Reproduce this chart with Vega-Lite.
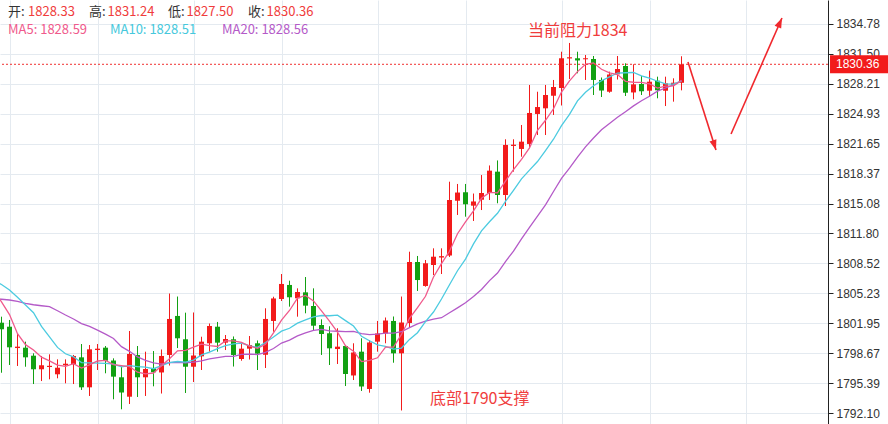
{
"$schema": "https://vega.github.io/schema/vega-lite/v6.json",
"width": 828, "height": 424,
"autosize": {"type": "none"},
"padding": {"left": 0, "top": 0, "right": 60, "bottom": 0},
"background": "white",
"config": {"view": {"stroke": null}, "scale": {"continuousPadding": 0}},
"resolve": {"axis": {"x": "independent", "y": "independent"}},
"datasets": {
"k": [
{"i":-1,"ma5":1805.60,"ma10":1806.70,"ma20":1804.66},
{"i":0,"o":1802.01,"h":1802.67,"l":1796.52,"c":1801.29,"ma5":1804.30,"ma10":1806.20,"ma20":1804.58},
{"i":1,"o":1801.57,"h":1802.31,"l":1797.37,"c":1799.31,"ma5":1802.90,"ma10":1805.60,"ma20":1804.50},
{"i":2,"o":1799.23,"h":1800.85,"l":1797.26,"c":1799.38,"ma5":1800.80,"ma10":1804.80,"ma20":1804.35},
{"i":3,"o":1799.27,"h":1799.93,"l":1797.18,"c":1798.21,"ma5":1799.60,"ma10":1803.95,"ma20":1804.14},
{"i":4,"o":1798.39,"h":1798.65,"l":1795.28,"c":1796.90,"ma5":1799.02,"ma10":1803.10,"ma20":1803.98},
{"i":5,"o":1796.90,"h":1798.36,"l":1795.61,"c":1797.34,"ma5":1798.23,"ma10":1801.60,"ma20":1803.87},
{"i":6,"o":1797.15,"h":1798.54,"l":1795.80,"c":1797.28,"ma5":1797.82,"ma10":1800.45,"ma20":1803.77},
{"i":7,"o":1796.35,"h":1797.99,"l":1795.91,"c":1797.07,"ma5":1797.36,"ma10":1799.30,"ma20":1803.32},
{"i":8,"o":1797.34,"h":1797.99,"l":1795.36,"c":1797.51,"ma5":1797.22,"ma10":1798.60,"ma20":1802.85},
{"i":9,"o":1797.45,"h":1798.47,"l":1795.28,"c":1798.36,"ma5":1797.51,"ma10":1798.27,"ma20":1802.42},
{"i":10,"o":1798.21,"h":1799.67,"l":1794.63,"c":1794.92,"ma5":1797.03,"ma10":1797.63,"ma20":1801.91},
{"i":11,"o":1794.92,"h":1799.56,"l":1793.97,"c":1799.09,"ma5":1797.39,"ma10":1797.61,"ma20":1801.60},
{"i":12,"o":1799.01,"h":1799.67,"l":1796.82,"c":1799.16,"ma5":1797.81,"ma10":1797.58,"ma20":1801.19},
{"i":13,"o":1799.27,"h":1799.45,"l":1796.46,"c":1797.84,"ma5":1797.87,"ma10":1797.55,"ma20":1800.75},
{"i":14,"o":1797.86,"h":1798.10,"l":1793.61,"c":1796.09,"ma5":1797.42,"ma10":1797.47,"ma20":1800.28},
{"i":15,"o":1796.02,"h":1797.20,"l":1792.51,"c":1794.35,"ma5":1797.31,"ma10":1797.17,"ma20":1799.38},
{"i":16,"o":1793.89,"h":1801.10,"l":1793.09,"c":1798.58,"ma5":1797.20,"ma10":1797.30,"ma20":1798.87},
{"i":17,"o":1798.47,"h":1799.45,"l":1793.86,"c":1796.02,"ma5":1796.58,"ma10":1797.19,"ma20":1798.25},
{"i":18,"o":1796.02,"h":1798.83,"l":1793.97,"c":1796.93,"ma5":1796.39,"ma10":1797.13,"ma20":1797.87},
{"i":19,"o":1796.99,"h":1798.90,"l":1795.03,"c":1796.57,"ma5":1796.49,"ma10":1796.96,"ma20":1797.61},
{"i":20,"o":1796.55,"h":1799.07,"l":1794.24,"c":1798.36,"ma5":1797.29,"ma10":1797.30,"ma20":1797.46},
{"i":21,"o":1798.47,"h":1805.21,"l":1797.31,"c":1802.42,"ma5":1798.06,"ma10":1797.63,"ma20":1797.62},
{"i":22,"o":1802.75,"h":1804.88,"l":1799.23,"c":1800.30,"ma5":1798.92,"ma10":1797.75,"ma20":1797.67},
{"i":23,"o":1800.19,"h":1803.11,"l":1794.30,"c":1797.18,"ma5":1798.97,"ma10":1797.68,"ma20":1797.61},
{"i":24,"o":1797.18,"h":1803.13,"l":1795.50,"c":1798.41,"ma5":1799.33,"ma10":1797.91,"ma20":1797.69},
{"i":25,"o":1798.32,"h":1800.47,"l":1796.82,"c":1799.93,"ma5":1799.65,"ma10":1798.47,"ma20":1797.82},
{"i":26,"o":1799.75,"h":1801.92,"l":1798.83,"c":1801.65,"ma5":1799.49,"ma10":1798.78,"ma20":1798.04},
{"i":27,"o":1801.57,"h":1802.09,"l":1798.83,"c":1799.82,"ma5":1799.40,"ma10":1799.16,"ma20":1798.18},
{"i":28,"o":1799.82,"h":1800.66,"l":1799.01,"c":1800.22,"ma5":1800.01,"ma10":1799.49,"ma20":1798.31},
{"i":29,"o":1800.19,"h":1800.50,"l":1797.20,"c":1798.47,"ma5":1800.02,"ma10":1799.68,"ma20":1798.32},
{"i":30,"o":1798.03,"h":1799.67,"l":1797.84,"c":1799.16,"ma5":1799.86,"ma10":1799.76,"ma20":1798.53},
{"i":31,"o":1799.16,"h":1800.55,"l":1797.97,"c":1799.56,"ma5":1799.45,"ma10":1799.47,"ma20":1798.55},
{"i":32,"o":1799.75,"h":1800.06,"l":1796.82,"c":1798.61,"ma5":1799.20,"ma10":1799.30,"ma20":1798.52},
{"i":33,"o":1798.49,"h":1803.59,"l":1797.04,"c":1802.42,"ma5":1799.64,"ma10":1799.83,"ma20":1798.75},
{"i":34,"o":1802.20,"h":1804.86,"l":1801.02,"c":1804.67,"ma5":1800.88,"ma10":1800.45,"ma20":1799.18},
{"i":35,"o":1804.61,"h":1807.35,"l":1804.39,"c":1806.26,"ma5":1802.30,"ma10":1801.08,"ma20":1799.78},
{"i":36,"o":1806.15,"h":1806.62,"l":1803.77,"c":1804.80,"ma5":1803.35,"ma10":1801.40,"ma20":1800.09},
{"i":37,"o":1804.69,"h":1805.78,"l":1802.67,"c":1805.38,"ma5":1804.71,"ma10":1801.96,"ma20":1800.56},
{"i":38,"o":1805.34,"h":1807.02,"l":1803.04,"c":1803.88,"ma5":1805.00,"ma10":1802.32,"ma20":1800.90},
{"i":39,"o":1803.84,"h":1805.78,"l":1801.21,"c":1801.68,"ma5":1804.40,"ma10":1802.64,"ma20":1801.16},
{"i":40,"o":1801.76,"h":1802.38,"l":1798.47,"c":1800.77,"ma5":1803.30,"ma10":1802.80,"ma20":1801.28},
{"i":41,"o":1800.85,"h":1801.62,"l":1797.37,"c":1799.20,"ma5":1802.18,"ma10":1802.77,"ma20":1801.12},
{"i":42,"o":1799.12,"h":1801.40,"l":1797.48,"c":1799.38,"ma5":1800.98,"ma10":1802.84,"ma20":1801.07},
{"i":43,"o":1799.45,"h":1799.56,"l":1795.06,"c":1796.38,"ma5":1799.48,"ma10":1802.24,"ma20":1801.03},
{"i":44,"o":1796.22,"h":1799.75,"l":1795.72,"c":1798.74,"ma5":1798.89,"ma10":1801.65,"ma20":1801.05},
{"i":45,"o":1798.83,"h":1800.30,"l":1794.52,"c":1795.01,"ma5":1797.74,"ma10":1800.52,"ma20":1800.80},
{"i":46,"o":1794.74,"h":1800.11,"l":1794.33,"c":1799.84,"ma5":1797.87,"ma10":1800.03,"ma20":1800.71},
{"i":47,"o":1799.93,"h":1802.20,"l":1798.83,"c":1800.83,"ma5":1798.16,"ma10":1799.57,"ma20":1800.76},
{"i":48,"o":1800.83,"h":1802.58,"l":1799.75,"c":1802.25,"ma5":1799.33,"ma10":1799.41,"ma20":1800.87},
{"i":49,"o":1802.20,"h":1802.69,"l":1797.62,"c":1798.65,"ma5":1799.32,"ma10":1799.11,"ma20":1800.87},
{"i":50,"o":1798.65,"h":1804.88,"l":1792.38,"c":1802.03,"ma5":1800.72,"ma10":1799.23,"ma20":1801.02},
{"i":51,"o":1801.98,"h":1809.80,"l":1801.54,"c":1808.67,"ma5":1802.49,"ma10":1800.18,"ma20":1801.47},
{"i":52,"o":1808.67,"h":1809.33,"l":1805.49,"c":1806.69,"ma5":1803.66,"ma10":1800.91,"ma20":1801.88},
{"i":53,"o":1806.04,"h":1808.89,"l":1805.96,"c":1808.53,"ma5":1804.91,"ma10":1802.12,"ma20":1802.18},
{"i":54,"o":1808.34,"h":1810.17,"l":1807.24,"c":1809.25,"ma5":1807.03,"ma10":1803.18,"ma20":1802.41},
{"i":55,"o":1809.16,"h":1810.17,"l":1807.35,"c":1809.31,"ma5":1808.49,"ma10":1804.61,"ma20":1802.56},
{"i":56,"o":1809.38,"h":1817.48,"l":1809.22,"c":1815.47,"ma5":1809.85,"ma10":1806.17,"ma20":1803.10},
{"i":57,"o":1815.39,"h":1817.23,"l":1813.83,"c":1816.29,"ma5":1811.77,"ma10":1807.71,"ma20":1803.64},
{"i":58,"o":1816.32,"h":1817.23,"l":1813.64,"c":1815.00,"ma5":1813.06,"ma10":1808.99,"ma20":1804.20},
{"i":59,"o":1814.85,"h":1816.18,"l":1813.17,"c":1815.31,"ma5":1814.28,"ma10":1810.66,"ma20":1804.88},
{"i":60,"o":1815.50,"h":1818.21,"l":1814.37,"c":1816.24,"ma5":1815.66,"ma10":1812.08,"ma20":1805.65},
{"i":61,"o":1816.24,"h":1819.26,"l":1815.47,"c":1818.69,"ma5":1816.31,"ma10":1813.08,"ma20":1806.63},
{"i":62,"o":1818.58,"h":1819.81,"l":1815.11,"c":1816.02,"ma5":1816.25,"ma10":1814.01,"ma20":1807.46},
{"i":63,"o":1816.02,"h":1822.13,"l":1814.81,"c":1821.51,"ma5":1817.55,"ma10":1815.31,"ma20":1808.72},
{"i":64,"o":1821.40,"h":1822.13,"l":1818.58,"c":1821.54,"ma5":1818.80,"ma10":1816.54,"ma20":1809.86},
{"i":65,"o":1821.07,"h":1823.70,"l":1820.22,"c":1821.87,"ma5":1819.93,"ma10":1817.79,"ma20":1811.20},
{"i":66,"o":1821.62,"h":1828.09,"l":1821.14,"c":1825.02,"ma5":1821.19,"ma10":1818.75,"ma20":1812.46},
{"i":67,"o":1824.91,"h":1827.35,"l":1822.60,"c":1825.67,"ma5":1823.12,"ma10":1819.69,"ma20":1813.70},
{"i":68,"o":1825.53,"h":1828.09,"l":1822.60,"c":1826.99,"ma5":1824.22,"ma10":1820.89,"ma20":1814.94},
{"i":69,"o":1826.91,"h":1828.64,"l":1824.80,"c":1827.87,"ma5":1825.48,"ma10":1822.14,"ma20":1816.40},
{"i":70,"o":1827.76,"h":1831.74,"l":1825.84,"c":1831.02,"ma5":1827.31,"ma10":1823.62,"ma20":1817.85},
{"i":71,"o":1831.00,"h":1832.70,"l":1828.75,"c":1831.13,"ma5":1828.54,"ma10":1824.86,"ma20":1818.97},
{"i":72,"o":1831.02,"h":1831.74,"l":1829.37,"c":1830.78,"ma5":1829.56,"ma10":1826.34,"ma20":1820.18},
{"i":73,"o":1830.91,"h":1831.38,"l":1828.64,"c":1831.02,"ma5":1830.36,"ma10":1827.29,"ma20":1821.30},
{"i":74,"o":1830.94,"h":1831.27,"l":1826.99,"c":1828.64,"ma5":1830.52,"ma10":1828.00,"ma20":1822.27},
{"i":75,"o":1828.64,"h":1828.91,"l":1826.77,"c":1827.48,"ma5":1829.81,"ma10":1828.56,"ma20":1823.18},
{"i":76,"o":1827.35,"h":1829.55,"l":1827.24,"c":1829.24,"ma5":1829.43,"ma10":1828.98,"ma20":1823.87},
{"i":77,"o":1829.26,"h":1831.27,"l":1828.69,"c":1829.84,"ma5":1829.24,"ma10":1829.40,"ma20":1824.54},
{"i":78,"o":1830.17,"h":1830.47,"l":1826.88,"c":1827.24,"ma5":1828.49,"ma10":1829.43,"ma20":1825.16},
{"i":79,"o":1827.27,"h":1830.36,"l":1826.52,"c":1828.16,"ma5":1828.39,"ma10":1829.46,"ma20":1825.80},
{"i":80,"o":1828.20,"h":1829.08,"l":1826.99,"c":1827.40,"ma5":1828.38,"ma10":1829.09,"ma20":1826.36},
{"i":81,"o":1827.46,"h":1829.66,"l":1826.80,"c":1828.45,"ma5":1828.22,"ma10":1828.83,"ma20":1826.85},
{"i":82,"o":1828.56,"h":1829.00,"l":1826.63,"c":1827.51,"ma5":1827.75,"ma10":1828.50,"ma20":1827.42},
{"i":83,"o":1827.46,"h":1829.00,"l":1825.78,"c":1828.27,"ma5":1827.96,"ma10":1828.22,"ma20":1827.76},
{"i":84,"o":1828.09,"h":1828.82,"l":1826.26,"c":1828.34,"ma5":1827.99,"ma10":1828.19,"ma20":1828.10},
{"i":85,"o":1828.33,"h":1831.24,"l":1827.50,"c":1830.36,"ma5":1828.59,"ma10":1828.51,"ma20":1828.56}
],
"hdr": [
{"t":"开:","i":0.81,"p":1836.10,"k":"lab"},
{"t":"1828.33","i":3.31,"p":1836.10,"k":"val"},
{"t":"高:","i":10.94,"p":1836.10,"k":"lab"},
{"t":"1831.24","i":13.25,"p":1836.10,"k":"val"},
{"t":"低:","i":20.81,"p":1836.10,"k":"lab"},
{"t":"1827.50","i":23.13,"p":1836.10,"k":"val"},
{"t":"收:","i":30.81,"p":1836.10,"k":"lab"},
{"t":"1830.36","i":33.13,"p":1836.10,"k":"val"},
{"t":"MA5: 1828.59","i":0.81,"p":1834.07,"k":"ma5"},
{"t":"MA10: 1828.51","i":13.56,"p":1834.07,"k":"ma10"},
{"t":"MA20: 1828.56","i":27.56,"p":1834.07,"k":"ma20"}
],
"note": [
{"t":"当前阻力1834","i":65.81,"p":1834.01},
{"t":"底部1790支撑","i":53.56,"p":1793.64}
],
"arr": [
{"g":"down","i":85.81,"p":1830.61},
{"g":"down","i":89.31,"p":1820.96},
{"g":"up","i":91.19,"p":1822.71},
{"g":"up","i":97.56,"p":1835.44}
],
"tips": [
{"g":"down","i":89.31,"p":1820.96},
{"g":"up","i":97.56,"p":1835.44}
],
"last": [{"p":1830.36,"ib":107.19,"it":104.31}]
},
"layer": [
{
"data": {"name":"k"},
"mark": {"type":"rule","strokeWidth":1},
"encoding": {
"x": {"field":"i","type":"quantitative","scale":{"domain":[-0.1875,103.3125],"nice":false,"zero":false,"padding":0},
 "axis":{"values":[1,12,24,35,47,58,70,81,93],"grid":true,"gridColor":"#e4eaf0","labels":false,"ticks":false,"domain":false,"title":null}},
"y": {"field":"h","type":"quantitative","scale":{"domain":[1790.896,1837.413],"nice":false,"zero":false,"padding":0},
 "axis":{"orient":"right","values":[1792.10,1795.39,1798.67,1801.95,1805.23,1808.52,1811.80,1815.08,1818.37,1821.65,1824.93,1828.21,1831.50,1834.78],
 "format":".2f","grid":true,"gridColor":"#e4eaf0","domainColor":"#222222","tickColor":"#222222","tickSize":5,
 "labelFont":"Liberation Sans","labelFontSize":12,"labelColor":"#333333","labelPadding":3,"labelOverlap":false,"labelFlush":false,"labelBound":false,"title":null}},
"y2": {"field":"l"},
"color": {"condition":{"test":"datum.c >= datum.o","value":"#f21b1b"},"value":"#12a012"}
}
},
{
"data": {"name":"k"},
"mark": {"type":"bar","width":5,"orient":"vertical"},
"encoding": {
"x": {"field":"i","type":"quantitative","scale":{"domain":[-0.1875,103.3125],"nice":false,"zero":false,"padding":0},"axis":null},
"y": {"field":"o","type":"quantitative","scale":{"domain":[1790.896,1837.413],"nice":false,"zero":false,"padding":0},"axis":null},
"y2": {"field":"c"},
"color": {"condition":{"test":"datum.c >= datum.o","value":"#f21b1b"},"value":"#12a012"}
}
},
{
"data": {"name":"k"},
"mark": {"type":"line","strokeWidth":1.3,"color":"#b45ac8"},
"encoding": {"x": {"field":"i","type":"quantitative","scale":{"domain":[-0.1875,103.3125],"nice":false,"zero":false,"padding":0},"axis":null},"y": {"field":"ma20","type":"quantitative","scale":{"domain":[1790.896,1837.413],"nice":false,"zero":false,"padding":0},"axis":null}}
},
{
"data": {"name":"k"},
"mark": {"type":"line","strokeWidth":1.3,"color":"#4ccbe0"},
"encoding": {"x": {"field":"i","type":"quantitative","scale":{"domain":[-0.1875,103.3125],"nice":false,"zero":false,"padding":0},"axis":null},"y": {"field":"ma10","type":"quantitative","scale":{"domain":[1790.896,1837.413],"nice":false,"zero":false,"padding":0},"axis":null}}
},
{
"data": {"name":"k"},
"mark": {"type":"line","strokeWidth":1.3,"color":"#f05a8c"},
"encoding": {"x": {"field":"i","type":"quantitative","scale":{"domain":[-0.1875,103.3125],"nice":false,"zero":false,"padding":0},"axis":null},"y": {"field":"ma5","type":"quantitative","scale":{"domain":[1790.896,1837.413],"nice":false,"zero":false,"padding":0},"axis":null}}
},
{
"data": {"name":"last"},
"mark": {"type":"rule","color":"#f03030","strokeDash":[2,2],"strokeWidth":1},
"encoding": {"y": {"field":"p","type":"quantitative","scale":{"domain":[1790.896,1837.413],"nice":false,"zero":false,"padding":0},"axis":null}}
},
{
"data": {"name":"last"},
"mark": {"type":"point","shape":"M-1,-0.31L1,-0.31L1,0.31L-1,0.31Z","size":3364,"filled":true,"color":"#f21b1b","opacity":1,"clip":false},
"encoding": {"x": {"field":"ib","type":"quantitative","scale":{"domain":[-0.1875,103.3125],"nice":false,"zero":false,"padding":0},"axis":null},"y": {"field":"p","type":"quantitative","scale":{"domain":[1790.896,1837.413],"nice":false,"zero":false,"padding":0},"axis":null}}
},
{
"data": {"name":"last"},
"mark": {"type":"text","align":"left","baseline":"middle","font":"Liberation Sans","fontSize":12,"color":"#ffffff","clip":false},
"encoding": {"x": {"field":"it","type":"quantitative","scale":{"domain":[-0.1875,103.3125],"nice":false,"zero":false,"padding":0},"axis":null},"y": {"field":"p","type":"quantitative","scale":{"domain":[1790.896,1837.413],"nice":false,"zero":false,"padding":0},"axis":null},"text": {"field":"p","type":"quantitative","format":".2f"}}
},
{
"data": {"name":"arr"},
"mark": {"type":"line","color":"#f0282d","strokeWidth":1.6},
"encoding": {"x": {"field":"i","type":"quantitative","scale":{"domain":[-0.1875,103.3125],"nice":false,"zero":false,"padding":0},"axis":null},"y": {"field":"p","type":"quantitative","scale":{"domain":[1790.896,1837.413],"nice":false,"zero":false,"padding":0},"axis":null},"detail": {"field":"g"}}
},
{
"data": {"name":"tips"},
"transform": [{"filter":"datum.g == 'down'"}],
"mark": {"type":"point","shape":"M0,0L-0.36,1L0.36,1Z","size":400,"filled":true,"color":"#f0282d","opacity":1,"angle":162.4},
"encoding": {"x": {"field":"i","type":"quantitative","scale":{"domain":[-0.1875,103.3125],"nice":false,"zero":false,"padding":0},"axis":null},"y": {"field":"p","type":"quantitative","scale":{"domain":[1790.896,1837.413],"nice":false,"zero":false,"padding":0},"axis":null}}
},
{
"data": {"name":"tips"},
"transform": [{"filter":"datum.g == 'up'"}],
"mark": {"type":"point","shape":"M0,0L-0.36,1L0.36,1Z","size":400,"filled":true,"color":"#f0282d","opacity":1,"angle":24.1},
"encoding": {"x": {"field":"i","type":"quantitative","scale":{"domain":[-0.1875,103.3125],"nice":false,"zero":false,"padding":0},"axis":null},"y": {"field":"p","type":"quantitative","scale":{"domain":[1790.896,1837.413],"nice":false,"zero":false,"padding":0},"axis":null}}
},
{
"data": {"name":"note"},
"mark": {"type":"text","align":"left","baseline":"middle","font":"Noto Sans CJK SC","fontSize":16,"color":"#f03c3c"},
"encoding": {"x": {"field":"i","type":"quantitative","scale":{"domain":[-0.1875,103.3125],"nice":false,"zero":false,"padding":0},"axis":null},"y": {"field":"p","type":"quantitative","scale":{"domain":[1790.896,1837.413],"nice":false,"zero":false,"padding":0},"axis":null},"text": {"field":"t"}}
},
{
"data": {"name":"hdr"},
"mark": {"type":"text","align":"left","baseline":"middle","font":"Noto Sans CJK SC","fontSize":13},
"encoding": {
"x": {"field":"i","type":"quantitative","scale":{"domain":[-0.1875,103.3125],"nice":false,"zero":false,"padding":0},"axis":null},
"y": {"field":"p","type":"quantitative","scale":{"domain":[1790.896,1837.413],"nice":false,"zero":false,"padding":0},"axis":null},
"text": {"field":"t"},
"color": {"field":"k","type":"nominal","scale":{"domain":["lab","val","ma5","ma10","ma20"],"range":["#333333","#f03c3c","#f05a8c","#46c8dc","#b45ac8"]},"legend":null}
}
}
]
}
